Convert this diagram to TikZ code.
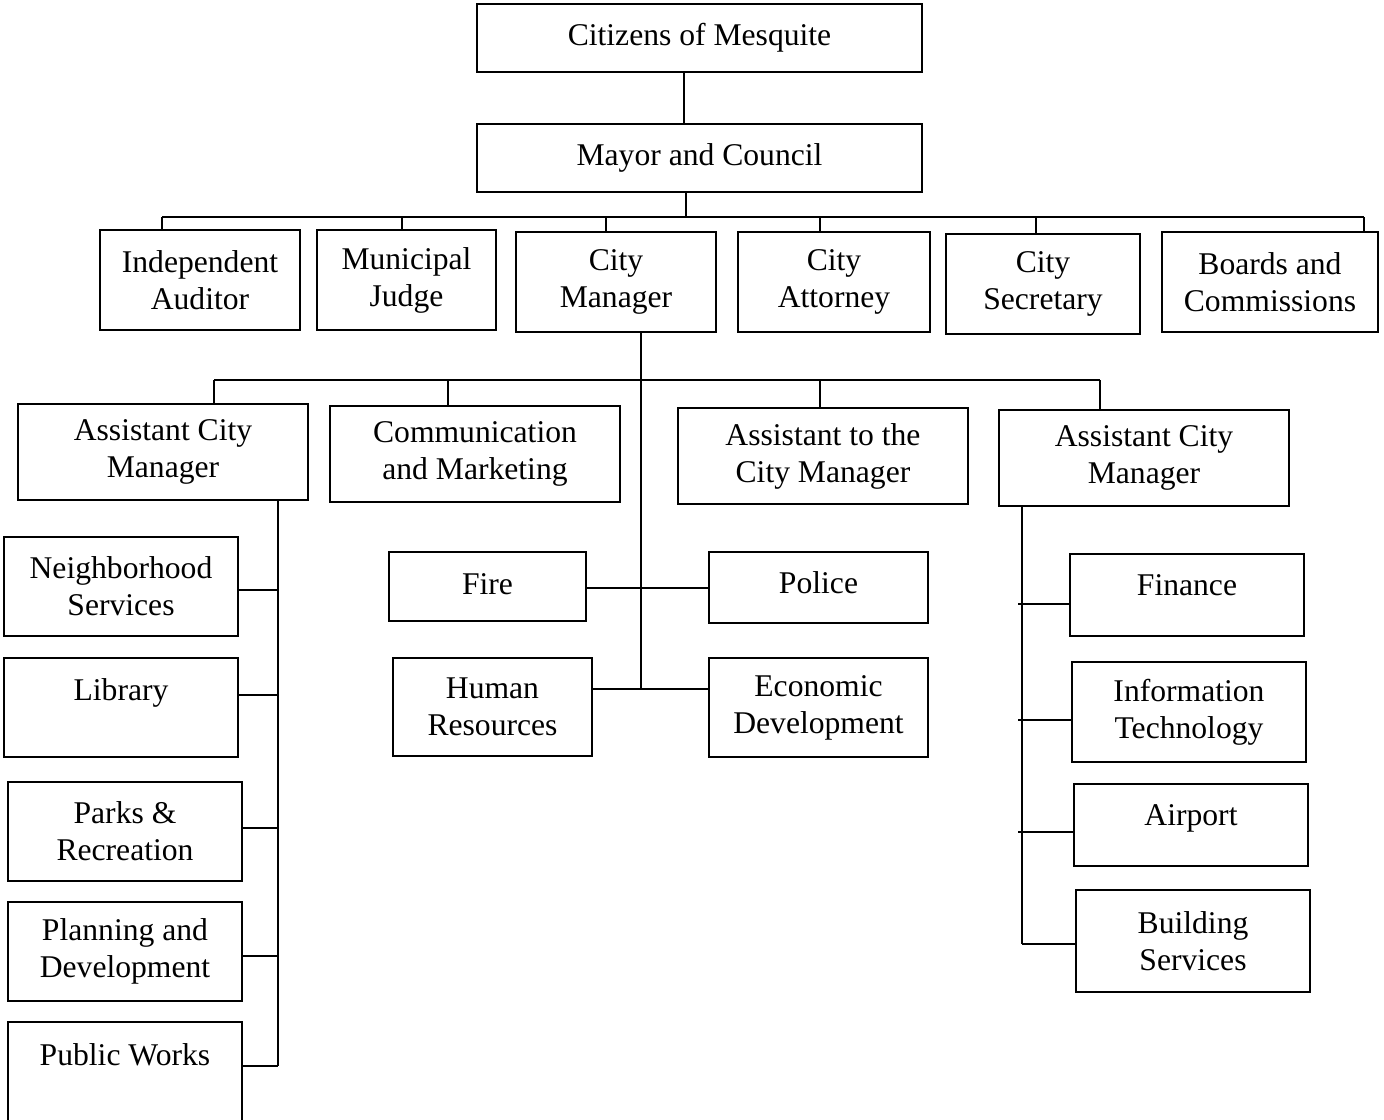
\documentclass[tikz,border=0pt]{standalone}
\usepackage{fontspec}
\setmainfont{Liberation Serif}
\begin{document}
\begin{tikzpicture}[x=0.02cm, y=-0.02cm,
    office/.style={draw, line width=1.1pt, align=center, inner sep=0pt,
        font=\fontsize{18}{21}\selectfont},
    link/.style={line width=1.1pt}]
    \useasboundingbox (0,0) rectangle (1384,1120);

        % council level
        \node[office, minimum width=8.9cm, minimum height=1.36cm] (cit) at (699.5,38) {Citizens of Mesquite};
        \node[office, minimum width=8.9cm, minimum height=1.36cm] (may) at (699.5,158) {Mayor and Council};

        \node[office, minimum width=4cm, minimum height=2cm] (aud) at (200,280) {Independent\\Auditor};
        \node[office, minimum width=3.58cm, minimum height=2cm] (jud) at (406.5,280) {Municipal\\Judge};
        \node[office, minimum width=4cm, minimum height=2cm] (man) at (616,282) {City\\Manager};
        \node[office, minimum width=3.84cm, minimum height=2cm] (att) at (834,282) {City\\Attorney};
        \node[office, minimum width=3.88cm, minimum height=2cm] (sec) at (1043,284) {City\\Secretary};
        \node[office, minimum width=4.32cm, minimum height=2cm] (boa) at (1270,282) {Boards and\\Commissions};

        % city manager level
        \node[office, minimum width=5.8cm, minimum height=1.92cm] (acmL) at (163,452) {Assistant City\\Manager};
        \node[office, minimum width=5.8cm, minimum height=1.92cm] (com) at (475,454) {Communication\\and Marketing};
        \node[office, minimum width=5.8cm, minimum height=1.92cm] (atm) at (823,456) {Assistant to the\\City Manager};
        \node[office, minimum width=5.8cm, minimum height=1.92cm] (acmR) at (1144,458) {Assistant City\\Manager};

        % departments
        \node[office, minimum width=4.68cm, minimum height=1.98cm] (nei) at (121,586.5) {Neighborhood\\Services};
        \node[office, minimum width=4.68cm, minimum height=1.98cm] (lib) at (121,707.5) {Library\\\mbox{}};
        \node[office, minimum width=4.68cm, minimum height=1.98cm] (par) at (125,831.5) {Parks \&\\Recreation};
        \node[office, minimum width=4.68cm, minimum height=1.98cm] (pla) at (125,951.5) {Planning and\\Development};
        \node[office, minimum width=4.68cm, minimum height=2.04cm] (pub) at (125,1073) {Public Works\\\mbox{}};

        \node[office, minimum width=3.94cm, minimum height=1.38cm, text depth=0.1cm] (fir) at (487.5,586.5) {Fire};
        \node[office, minimum width=4.38cm, minimum height=1.42cm, text depth=0.2cm] (pol) at (818.5,587.5) {Police};
        \node[office, minimum width=3.98cm, minimum height=1.96cm] (hum) at (492.5,707) {Human\\Resources};
        \node[office, minimum width=4.38cm, minimum height=1.98cm] (eco) at (818.5,707.5) {Economic\\Development};

        \node[office, minimum width=4.68cm, minimum height=1.64cm, text depth=0.4cm] (fin) at (1187,595) {Finance};
        \node[office, minimum width=4.68cm, minimum height=2cm] (inf) at (1189,712) {Information\\Technology};
        \node[office, minimum width=4.68cm, minimum height=1.64cm, text depth=0.4cm] (air) at (1191,825) {Airport};
        \node[office, minimum width=4.68cm, minimum height=2.04cm] (bui) at (1193,941) {Building\\Services};

        % connectors
        \draw[link] (cit.south -| 684,0) -- (may.north -| 684,0);
        \draw[link] (may.south -| 686,0) -- (686,217);
        \draw[link] (162,217) -- (1364,217);
        \foreach \n/\x in {aud/162, jud/402, man/606, att/820, sec/1036, boa/1364}
            \draw[link] (\x,217) -- (\n.north -| \x,0);

        \draw[link] (man.south -| 641,0) -- (641,689);
        \draw[link] (214,380) -- (1100,380);
        \foreach \n/\x in {acmL/214, com/448, atm/820, acmR/1100}
            \draw[link] (\x,380) -- (\n.north -| \x,0);
        \draw[link] (fir.east |- 0,588) -- (pol.west |- 0,588);
        \draw[link] (hum.east |- 0,689) -- (eco.west |- 0,689);

        \draw[link] (acmL.south -| 278,0) -- (278,1066);
        \foreach \n/\y in {nei/590, lib/695, par/828, pla/956, pub/1066}
            \draw[link] (\n.east |- 0,\y) -- (278,\y);

        \draw[link] (acmR.south -| 1022,0) -- (1022,944);
        \foreach \n/\y in {fin/604, inf/720, air/832}
            \draw[link] (1018,\y) -- (\n.west |- 0,\y);
        \draw[link] (1022,944) -- (bui.west |- 0,944);

\end{tikzpicture}
\end{document}
